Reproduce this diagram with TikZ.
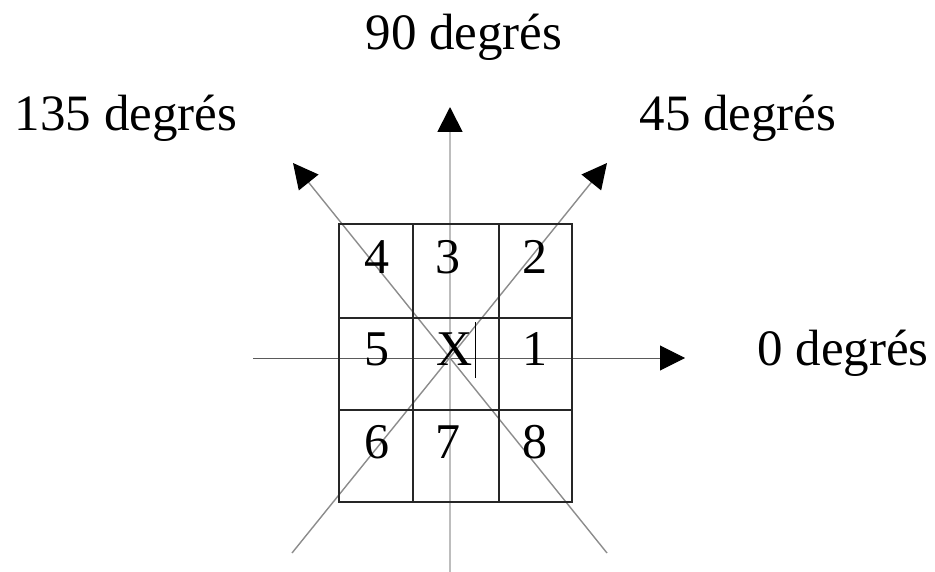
\documentclass[tikz,border=0pt]{standalone}
\usepackage{fontspec}
\setmainfont{Liberation Serif}
\usetikzlibrary{arrows.meta}
\definecolor{vaxis}{HTML}{BDBDBD}
\definecolor{haxis}{HTML}{5A5A5A}
\definecolor{diag}{HTML}{8C8C8C}
\begin{document}
\begin{tikzpicture}[x=1pt,y=-1pt,
  lbl/.style={anchor=base,inner sep=0pt,font=\fontsize{51}{51}\selectfont},
  cellnum/.style={anchor=base,inner sep=0pt,font=\fontsize{50}{50}\selectfont},
  tip/.style={-{Triangle[length=25pt,width=25pt,color=black]}},
  gridline/.style={line width=1.5pt,black!85}]
\useasboundingbox (0,0) rectangle (935,572);
% axis end points
\coordinate (vb) at (450,572);
\coordinate (vt) at (450,107);
\coordinate (hl) at (253,358);
\coordinate (hr) at (685,358);
\coordinate (d1a) at (292,553);
\coordinate (d1b) at (607,163);
\coordinate (d2a) at (607,553);
\coordinate (d2b) at (293,163);
% axes
\draw[tip,vaxis,line width=1.8pt] (vb) -- (vt);
\draw[tip,haxis,line width=1pt] (hl) -- (hr);
\draw[tip,diag,line width=1.4pt] (d1a) -- (d1b);
\draw[tip,diag,line width=1.4pt] (d2a) -- (d2b);
% grid
\draw[gridline] (339,224) rectangle (572,502);
\draw[gridline] (413,224) -- (413,502);
\draw[gridline] (499,224) -- (499,502);
\draw[gridline] (339,318) -- (572,318);
\draw[gridline] (339,410) -- (572,410);
% cell labels
\node[cellnum] (c4) at (377,273) {4};
\node[cellnum] (c3) at (448,273) {3};
\node[cellnum] (c2) at (535,273) {2};
\node[cellnum] (c5) at (377,365) {5};
\node[cellnum] (cx) at (455,365) {X};
\node[cellnum] (c1) at (535,365) {1};
\node[cellnum] (c6) at (377,458) {6};
\node[cellnum] (c7) at (448,458) {7};
\node[cellnum] (c8) at (535,458) {8};
% cursor mark
\draw[black,line width=1pt] (475,322) -- (475,378);
% direction labels
\node[lbl] (l90) at (464,50) {90 degrés};
\node[lbl] (l135) at (126,131) {135 degrés};
\node[lbl] (l45) at (738,131) {45 degrés};
\node[lbl] (l0) at (843,365) {0 degrés};
\end{tikzpicture}
\end{document}
